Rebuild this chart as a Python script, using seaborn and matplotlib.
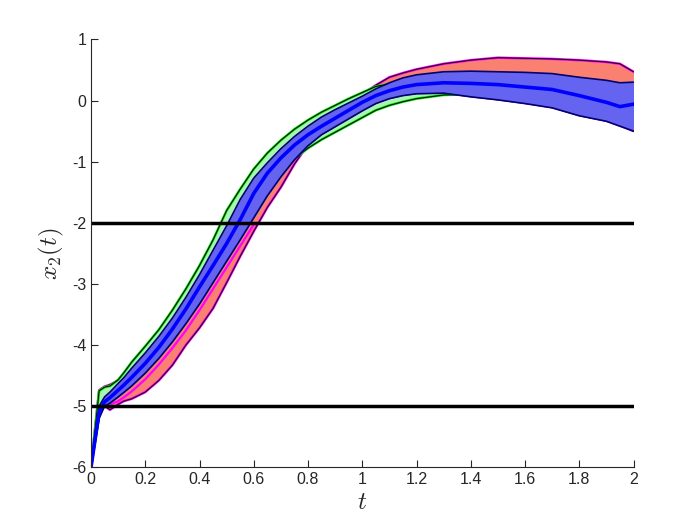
import numpy as np
import pandas as pd
import seaborn as sns
import matplotlib
matplotlib.use('Agg')
import matplotlib.pyplot as plt
from matplotlib.ticker import FuncFormatter

# time grid
t = [0, 0.03, 0.05, 0.07, 0.1, 0.12, 0.15, 0.2, 0.25, 0.3, 0.35, 0.4, 0.45, 0.5,
     0.55, 0.6, 0.65, 0.7, 0.75, 0.8, 0.85, 0.9, 0.95, 1.0, 1.05, 1.1, 1.15, 1.2,
     1.3, 1.4, 1.5, 1.6, 1.7, 1.8, 1.9, 1.95, 2.0]

# mean trajectory
mean_x2 = [-6, -5.1, -4.93, -4.86, -4.74, -4.66, -4.53, -4.3, -4.04, -3.74, -3.41, -3.05,
           -2.7, -2.34, -1.95, -1.52, -1.19, -0.94, -0.73, -0.56, -0.42, -0.29, -0.16,
           -0.03, 0.08, 0.16, 0.22, 0.26, 0.29, 0.28, 0.26, 0.22, 0.18, 0.08, -0.03, -0.1, -0.06]

# blue tube
blue_hi = [-6, -5.0, -4.85, -4.77, -4.63, -4.54, -4.38, -4.13, -3.86, -3.56, -3.22, -2.85,
           -2.45, -2.05, -1.62, -1.27, -1.02, -0.79, -0.59, -0.42, -0.27, -0.15, -0.04,
           0.07, 0.19, 0.29, 0.37, 0.42, 0.47, 0.48, 0.47, 0.46, 0.44, 0.38, 0.33, 0.29, 0.3]
blue_lo = [-6, -5.2, -5.0, -4.95, -4.85, -4.78, -4.67, -4.46, -4.22, -3.95, -3.65, -3.33,
           -2.98, -2.63, -2.28, -1.92, -1.56, -1.25, -0.97, -0.74, -0.56, -0.43, -0.3,
           -0.17, -0.05, 0.03, 0.08, 0.11, 0.12, 0.06, 0.01, -0.05, -0.12, -0.25, -0.34, -0.42, -0.5]

# green tube
green_hi = [-6, -4.75, -4.69, -4.67, -4.57, -4.46, -4.28, -4.02, -3.75, -3.43, -3.08, -2.7,
            -2.28, -1.8, -1.45, -1.12, -0.86, -0.65, -0.47, -0.32, -0.19, -0.08, 0.03,
            0.13, 0.23, 0.27, 0.3, 0.32, 0.34, 0.34, 0.33, 0.3, 0.26, 0.2, 0.15, 0.12, 0.1]
green_lo = [-6, -5.15, -4.96, -4.9, -4.8, -4.72, -4.6, -4.4, -4.15, -3.88, -3.58, -3.26,
            -2.9, -2.55, -2.2, -1.84, -1.5, -1.2, -0.95, -0.78, -0.64, -0.52, -0.4,
            -0.28, -0.16, -0.08, -0.02, 0.03, 0.09, 0.1, 0.1, 0.06, 0.02, -0.08, -0.15, -0.2, -0.25]

# red tube
red_hi = [-6, -4.74, -4.68, -4.65, -4.58, -4.5, -4.33, -4.08, -3.8, -3.5, -3.15, -2.78,
          -2.38, -1.95, -1.55, -1.2, -0.93, -0.72, -0.54, -0.38, -0.24, -0.12, -0.01,
          0.1, 0.25, 0.38, 0.45, 0.51, 0.6, 0.66, 0.7, 0.69, 0.68, 0.66, 0.63, 0.6, 0.47]
red_lo = [-6, -5.12, -5.0, -5.06, -4.97, -4.92, -4.88, -4.77, -4.58, -4.33, -4.0, -3.72,
          -3.4, -2.98, -2.55, -2.14, -1.75, -1.42, -1.04, -0.72, -0.55, -0.42, -0.29,
          -0.16, -0.04, 0.05, 0.1, 0.12, 0.13, 0.07, 0.02, -0.04, -0.11, -0.24, -0.33, -0.41, -0.5]

# magenta trajectory inside the red tube (early part only)
magenta = [np.nan, np.nan, -4.99, -4.97, -4.92, -4.86, -4.76, -4.56, -4.32, -4.05, -3.76, -3.43,
           -3.08, -2.73, -2.38, -2.03] + [np.nan] * 21

# constraint levels
bounds = [-2, -5]

xticks = [0, 0.2, 0.4, 0.6, 0.8, 1, 1.2, 1.4, 1.6, 1.8, 2]
yticks = [-6, -5, -4, -3, -2, -1, 0, 1]

df = pd.DataFrame({'t': t, 'mean': mean_x2, 'blue_hi': blue_hi, 'blue_lo': blue_lo,
                   'green_hi': green_hi, 'green_lo': green_lo,
                   'red_hi': red_hi, 'red_lo': red_lo, 'magenta': magenta})

sns.set_style('white')
plt.rcParams['font.family'] = ['Liberation Sans', 'DejaVu Sans']
plt.rcParams['axes.unicode_minus'] = False
plt.rcParams['mathtext.fontset'] = 'cm'

fig = plt.figure(figsize=(7, 5.25), dpi=100)
ax = fig.add_axes([0.13, 0.11, 0.775, 0.815])

# red tube
ax.fill_between(df['t'], df['red_lo'], df['red_hi'], color='#FA8072', lw=0, zorder=1)
for col in ['red_lo', 'red_hi']:
    sns.lineplot(data=df, x='t', y=col, ax=ax, color='#FF00FF', lw=1.8, zorder=2)
    sns.lineplot(data=df, x='t', y=col, ax=ax, color='black', lw=0.7, zorder=2.1)
sns.lineplot(data=df, x='t', y='magenta', ax=ax, color='#FF00FF', lw=1.6, zorder=2)

# green tube
ax.fill_between(df['t'], df['green_lo'], df['green_hi'], color='#AAF5B0', lw=0, zorder=3)
for col in ['green_lo', 'green_hi']:
    sns.lineplot(data=df, x='t', y=col, ax=ax, color='#00E000', lw=1.8, zorder=4)
    sns.lineplot(data=df, x='t', y=col, ax=ax, color='black', lw=0.7, zorder=4.1)

# blue tube
ax.fill_between(df['t'], df['blue_lo'], df['blue_hi'], color='#6464F0', lw=0, zorder=5)
for col in ['blue_lo', 'blue_hi']:
    sns.lineplot(data=df, x='t', y=col, ax=ax, color='#000070', lw=1.2, zorder=6)
sns.lineplot(data=df, x='t', y='mean', ax=ax, color='#0000FF', lw=2.6, zorder=7)

for b in bounds:
    ax.axhline(b, color='black', lw=2.5, zorder=8)

ax.set_xlim(0, 2)
ax.set_ylim(-6, 1)
ax.set_xticks(xticks)
ax.set_yticks(yticks)
ax.xaxis.set_major_formatter(FuncFormatter(lambda v, p: '%g' % v))
ax.yaxis.set_major_formatter(FuncFormatter(lambda v, p: '%g' % v))
ax.tick_params(direction='in', length=5, width=0.8, labelsize=11.5, colors='#262626',
               bottom=True, left=True, top=False, right=False)
for s in ['top', 'right']:
    ax.spines[s].set_visible(False)
for s in ['left', 'bottom']:
    ax.spines[s].set_color('#262626')
    ax.spines[s].set_linewidth(0.8)
    ax.spines[s].set_zorder(9)

ax.set_xlabel('$t$', fontsize=18, labelpad=2)
ax.set_ylabel('$x_2(t)$', fontsize=18, labelpad=4)

fig.savefig('out.png', dpi=100)
